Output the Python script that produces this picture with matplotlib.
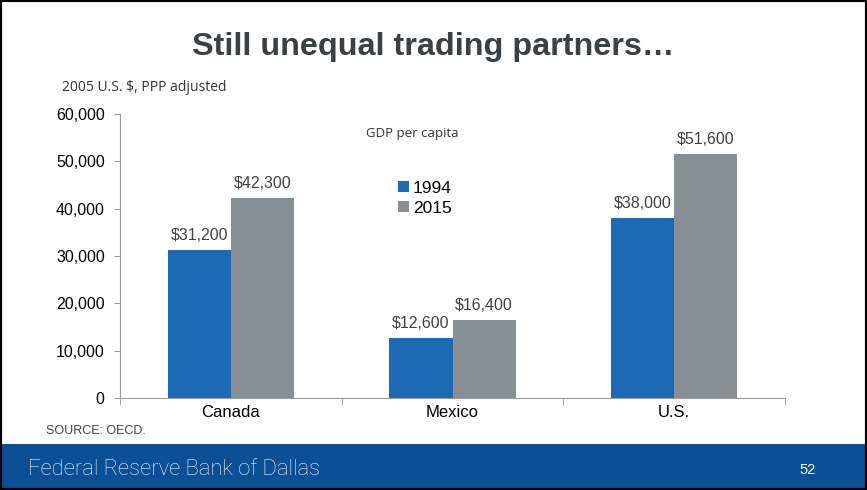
import numpy as np
import matplotlib
matplotlib.use("Agg")
import matplotlib.pyplot as plt
from matplotlib.patches import Rectangle

countries = ["Canada", "Mexico", "U.S."]
years = ["1994", "2015"]
gdp_1994 = [31200, 12600, 38000]
gdp_2015 = [42300, 16400, 51600]
yticks = [0, 10000, 20000, 30000, 40000, 50000, 60000]

C94 = "#1C6AB5"
C15 = "#878F94"
FOOT = "#0B4F96"

fig = plt.figure(figsize=(8.67, 4.9), dpi=100)
fig.patch.set_facecolor("white")

# slide border and footer band
fig.patches.append(Rectangle((0, 0), 1, 1, transform=fig.transFigure, fill=False,
                             edgecolor="black", linewidth=3, zorder=10))
fig.patches.append(Rectangle((0, 0), 1, 46 / 490, transform=fig.transFigure,
                             facecolor=FOOT, edgecolor="none", zorder=0))
fig.text(28 / 867, 0.041, "Federal Reserve Bank of Dallas", color="#F0F4FA", fontsize=15.8,
         family="Roboto", fontweight="light", va="center", ha="left")
fig.text(808 / 867, 0.041, "52", color="white", fontsize=10.5, family="Liberation Sans",
         va="center", ha="center")

fig.text(0.5, 0.904, "Still unequal trading partners\u2026", ha="center", va="center",
         fontsize=23.3, fontweight="bold", color="#3B4045", family="Liberation Sans")
fig.text(0.072, 0.822, "2005 U.S. $, PPP adjusted", fontsize=10, color="#333333",
         family="Open Sans", va="center")
fig.text(46 / 867, 1 - 431 / 490, "SOURCE: OECD.", fontsize=9, color="#444444",
         family="Liberation Sans", va="center")

ax = fig.add_axes([120 / 867, 1 - 398 / 490, 665 / 867, 284 / 490])
x = np.arange(len(countries))
w = 0.285
b1 = ax.bar(x - w / 2, gdp_1994, w, color=C94, label=years[0])
b2 = ax.bar(x + w / 2, gdp_2015, w, color=C15, label=years[1])
for bars in (b1, b2):
    for r in bars:
        ax.text(r.get_x() + r.get_width() / 2, r.get_height() + 1500, f"${r.get_height():,.0f}",
                ha="center", va="bottom", fontsize=11.5, color="#404040", family="Liberation Sans")

ax.set_xlim(-0.5, 2.5)
ax.set_ylim(0, 60000)
ax.set_yticks(yticks)
ax.set_yticklabels([f"{v:,}" for v in yticks], fontsize=11.5, family="Liberation Sans")
ax.set_xticks(x)
ax.set_xticklabels(countries, fontsize=12, family="Liberation Sans")
ax.set_xticks([-0.5, 0.5, 1.5, 2.5], minor=True)
ax.tick_params(axis="x", which="major", length=0, pad=5)
ax.tick_params(axis="x", which="minor", length=5, color="#999999")
ax.tick_params(axis="y", length=4, color="#999999", pad=7)
for s in ("top", "right"):
    ax.spines[s].set_visible(False)
for s in ("left", "bottom"):
    ax.spines[s].set_color("#999999")

ax.text(0.44, 0.93, "GDP per capita", transform=ax.transAxes, ha="center", va="center",
        fontsize=9.5, color="#333333", family="Open Sans")
ax.legend(loc="upper left", bbox_to_anchor=(0.395, 0.82), frameon=False,
          handlelength=0.6, handleheight=0.6, handletextpad=0.25, labelspacing=0.3,
          prop={"family": "Liberation Sans", "size": 12.5})

fig.savefig("out.png", dpi=100)
